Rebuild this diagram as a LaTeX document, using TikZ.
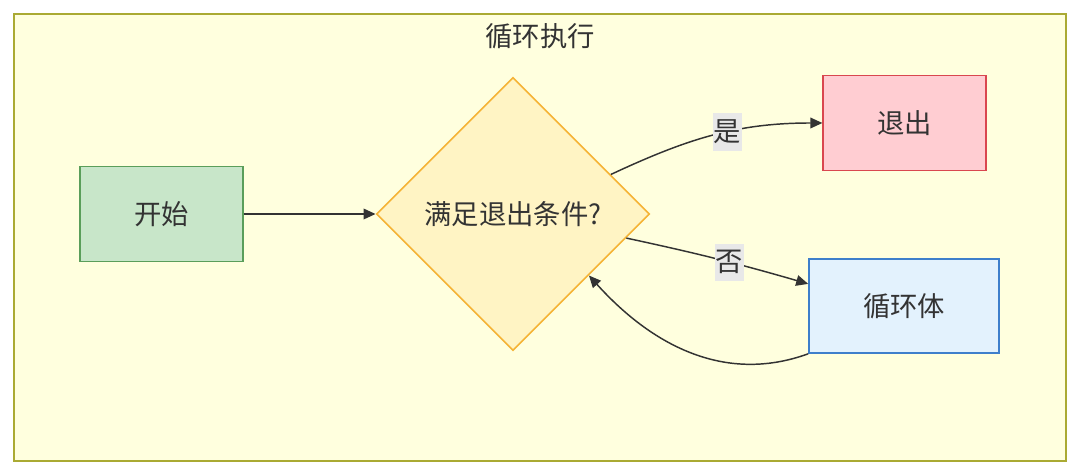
\documentclass[tikz,border=0pt]{standalone}
\usepackage{fontspec}
\usepackage{xcolor}
\usepackage{tikz}
\usetikzlibrary{arrows.meta,positioning,shapes.geometric}
\newfontfamily\cjk{Noto Sans CJK SC}
\definecolor{framebg}{HTML}{FFFFDE}
\definecolor{framex}{HTML}{AAAA33}
\definecolor{greenbg}{HTML}{C8E6C9}
\definecolor{greenx}{HTML}{5A9E5A}
\definecolor{redbg}{HTML}{FFCDD2}
\definecolor{redx}{HTML}{D9474F}
\definecolor{bluebg}{HTML}{E3F2FD}
\definecolor{bluex}{HTML}{3E7FCB}
\definecolor{decbg}{HTML}{FFF4C4}
\definecolor{decx}{HTML}{F5B335}
\definecolor{inkx}{HTML}{333333}
\definecolor{lblbg}{HTML}{E8E8E8}
\tikzset{
  ar/.style={-{Triangle[length=9pt,width=8pt]},line width=1.1pt,inkx},
  txt/.style={font=\cjk\fontsize{20.5}{24}\selectfont,text=inkx},
  box/.style={txt,draw,line width=1.2pt,minimum width=122pt,minimum height=71pt,inner sep=0pt},
  dec/.style={txt,diamond,aspect=1,draw=decx,fill=decbg,line width=1.2pt,minimum width=205pt,minimum height=205pt,inner sep=0pt},
  lbl/.style={txt,fill=lblbg,inner xsep=0.5pt,inner ysep=5pt}
}
\begin{document}
\begin{tikzpicture}[x=0.75pt,y=0.75pt]
\useasboundingbox (0,0) rectangle (1080,474);
\draw[framex,fill=framebg,line width=1.5pt] (14,13) rectangle (1066,460);
\node[txt] (title) at (540,438) {循环执行};
\node[box,draw=greenx,fill=greenbg] (start) at (161.5,260) {开始};
\node[dec] (cond) at (513,260) {满足退出条件?};
\node[box,draw=redx,fill=redbg] (exit) at (904.5,351) {退出};
\node[box,draw=bluex,fill=bluebg,minimum width=142.5pt,minimum height=70.5pt] (body) at (904,168) {循环体};
\draw[ar] (start) -- (cond);
\draw[ar] (cond.22) to[out=25,in=180] node[lbl,pos=0.57] (yes) {是} (exit.west);
\draw[ar] (cond.-12) to[bend left=2] node[lbl,pos=0.57] (no) {否} (body.167);
\draw[ar] (body.south west) to[out=200,in=-48] (cond.-39);
\end{tikzpicture}
\end{document}
